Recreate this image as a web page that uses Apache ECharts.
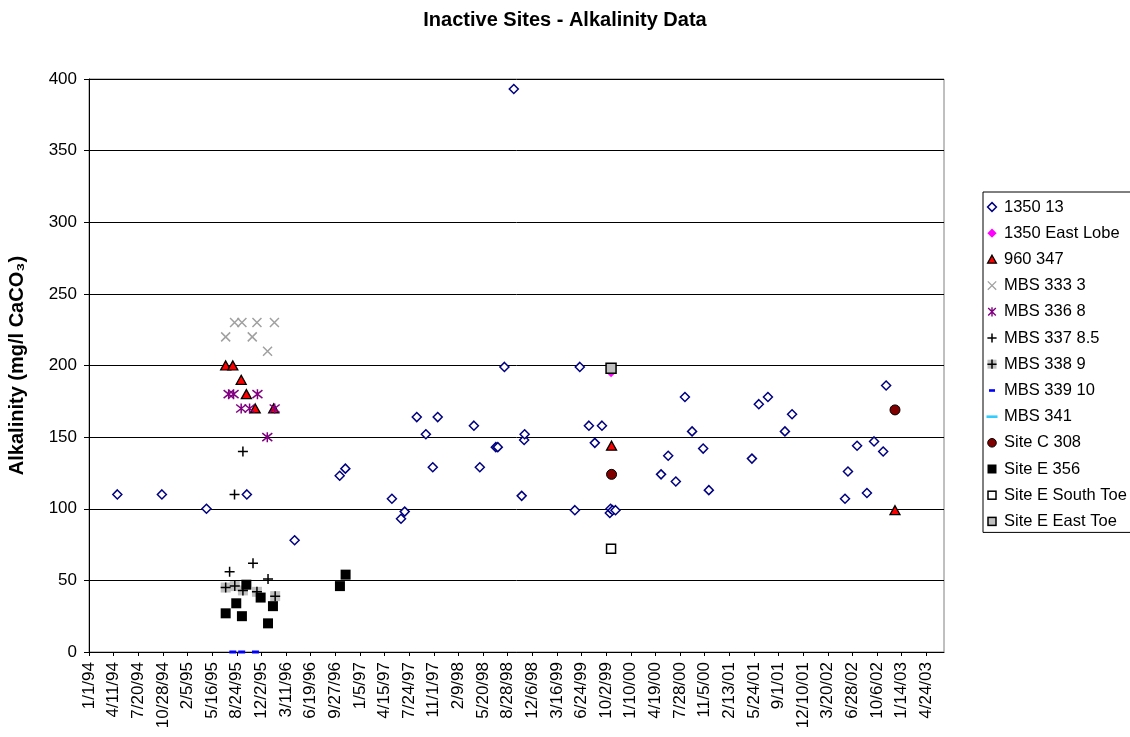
<!DOCTYPE html>
<html>
<head>
<meta charset="utf-8">
<script src="https://cdn.jsdelivr.net/npm/echarts@6/dist/echarts.min.js"></script>
<style>
  html, body { margin: 0; padding: 0; background: #fff; }
  #chart { width: 1130px; height: 737px; }
</style>
</head>
<body>
<div id="chart"></div>
<script>
// ---- axis settings -------------------------------------------------------
const AXIS_START = '1994-01-01';      // left edge of the date axis
const AXIS_END = '2003-07-05';        // right edge of the date axis
const TICK_STEP_DAYS = 100;           // spacing of the date ticks
const TICK_COUNT = 35;                // 1/1/94 ... 4/24/03
const Y_MIN = 0, Y_MAX = 400, Y_STEP = 50;

// ---- sampling data: dates and alkalinity (mg/l CaCO3) ---------------------
const site1350_13_dates = [
  '1994-04-26', '1994-10-24', '1995-04-23', '1995-10-04', '1996-04-15',
  '1996-10-15', '1996-11-07', '1997-05-15', '1997-06-21', '1997-07-06',
  '1997-08-24', '1997-09-30', '1997-10-28', '1997-11-17', '1998-04-13',
  '1998-05-07', '1998-07-11', '1998-07-19', '1998-08-15', '1998-09-22',
  '1998-10-24', '1998-11-03', '1998-11-05', '1999-05-28', '1999-06-17',
  '1999-07-24', '1999-08-17', '1999-09-15', '1999-10-17', '1999-10-20',
  '1999-10-28', '1999-11-09', '2000-05-12', '2000-06-10', '2000-07-11',
  '2000-08-17', '2000-09-15', '2000-10-30', '2000-11-22', '2001-05-16',
  '2001-06-13', '2001-07-20', '2001-09-27', '2001-10-26', '2002-05-29',
  '2002-06-10', '2002-07-17', '2002-08-26', '2002-09-24', '2002-10-31',
  '2002-11-12'
];
const site1350_13_values = [
  110, 110, 100, 110, 78,
  123, 128, 107, 93, 98,
  164, 152, 129, 164, 158,
  129, 143, 143, 199, 393,
  109, 148, 152, 99, 199,
  158, 146, 158, 97, 100,
  99, 99, 124, 137, 119,
  178, 154, 142, 113, 135,
  173, 178, 154, 166, 107,
  126, 144, 111, 147, 140,
  186
];

const eastLobe_dates = ['1999-10-22'];
const eastLobe_values = [195];

const site960_347_dates = ['1995-07-10', '1995-08-08', '1995-09-11', '1995-10-02', '1995-11-07', '1996-01-21', '1999-10-24', '2002-12-18'];
const site960_347_values = [200, 200, 190, 180, 170, 170, 144, 99];

const mbs333_dates = ['1995-07-10', '1995-08-15', '1995-09-14', '1995-10-26', '1995-11-14', '1995-12-27', '1996-01-24'];
const mbs333_values = [220, 230, 230, 220, 230, 210, 230];

const mbs336_dates = ['1995-07-22', '1995-08-11', '1995-09-11', '1995-10-15', '1995-11-16', '1995-12-26', '1996-01-25'];
const mbs336_values = [180, 180, 170, 170, 180, 150, 170];

const mbs337_dates = ['1995-07-26', '1995-08-15', '1995-09-18', '1995-10-29', '1995-12-29'];
const mbs337_values = [56, 110, 140, 62, 51];

const mbs338_dates = ['1995-07-10', '1995-08-16', '1995-09-18', '1995-11-14', '1996-01-27'];
const mbs338_values = [45, 46, 43, 42, 39];

const mbs339_dates = ['1995-08-08', '1995-09-13', '1995-11-08'];
const mbs339_values = [0, 0, 0];

const mbs341_dates = [];
const mbs341_values = [];

const siteC308_dates = ['1999-10-24', '2002-12-18'];
const siteC308_values = [124, 169];

const siteE356_dates = ['1995-07-10', '1995-08-22', '1995-09-14', '1995-10-02', '1995-11-29', '1995-12-29', '1996-01-18', '1996-10-16', '1996-11-08'];
const siteE356_values = [27, 34, 25, 47, 38, 20, 32, 46, 54];

const southToe_dates = ['1999-10-22'];
const southToe_values = [72];

const eastToe_dates = ['1999-10-22'];
const eastToe_values = [198];

// ---- helpers -------------------------------------------------------------
const FONT = '"Liberation Sans", Arial, Helvetica, sans-serif';
const DAY_MS = 86400000;
function utc(iso) {
  const [y, m, d] = iso.split('-').map(Number);
  return Date.UTC(y, m - 1, d);
}
const ORIGIN = utc(AXIS_START);
function dayNum(iso) { return Math.round((utc(iso) - ORIGIN) / DAY_MS); }
function dateLabel(days) {
  const dt = new Date(ORIGIN + days * DAY_MS);
  const yy = String(dt.getUTCFullYear() % 100).padStart(2, '0');
  return (dt.getUTCMonth() + 1) + '/' + dt.getUTCDate() + '/' + yy;
}
function pairs(dates, values) { return dates.map((d, i) => [dayNum(d), values[i]]); }

const tickDays = [];
for (let i = 0; i < TICK_COUNT; i++) tickDays.push(i * TICK_STEP_DAYS);

function svgIcon(body) {
  const svg = '<svg xmlns="http://www.w3.org/2000/svg" width="14" height="14" viewBox="0 0 14 14">' + body + '</svg>';
  return 'image://data:image/svg+xml;charset=utf-8,' + encodeURIComponent(svg);
}

const ICONS = {
  '1350 13': svgIcon('<path d="M7 2.6L11.4 7L7 11.4L2.6 7Z" fill="#fff" stroke="#000080" stroke-width="1.5"/>'),
  '1350 East Lobe': svgIcon('<path d="M7 2.4L11.6 7L7 11.6L2.4 7Z" fill="#ff00ff"/>'),
  '960 347': svgIcon('<path d="M7 2.8L11.4 10.8L2.6 10.8Z" fill="#ff0000" stroke="#000" stroke-width="1.3"/>'),
  'MBS 333 3': svgIcon('<path d="M2.8 2.8L11.2 11.2M11.2 2.8L2.8 11.2" stroke="#a0a0a0" stroke-width="1.3"/>'),
  'MBS 336 8': svgIcon('<path d="M3.2 3.2L10.8 10.8M10.8 3.2L3.2 10.8M7 2.4V11.6" stroke="#800080" stroke-width="1.4"/>'),
  'MBS 337 8.5': svgIcon('<path d="M7 2.4V11.6M2.4 7H11.6" stroke="#000" stroke-width="1.5"/>'),
  'MBS 338 9': svgIcon('<rect x="2.5" y="2.5" width="9" height="9" fill="#c0c0c0"/><path d="M7 2.4V11.6M2.4 7H11.6" stroke="#000" stroke-width="1.5"/>'),
  'MBS 339 10': svgIcon('<rect x="4" y="5.8" width="6" height="2.6" fill="#0000ff"/>'),
  'MBS 341': svgIcon('<rect x="1.5" y="5.8" width="11" height="2.6" fill="#33ccff"/>'),
  'Site C 308': svgIcon('<circle cx="7" cy="7" r="4.3" fill="#800000" stroke="#000" stroke-width="1"/>'),
  'Site E 356': svgIcon('<rect x="2.5" y="2.5" width="9" height="9" fill="#000"/>'),
  'Site E South Toe': svgIcon('<rect x="3" y="3" width="8" height="8" fill="#fff" stroke="#000" stroke-width="1.5"/>'),
  'Site E East Toe': svgIcon('<rect x="3" y="3" width="8" height="8" fill="#c0c0c0" stroke="#000" stroke-width="1.5"/>')
};

const CROSS_PATH = 'path://M0,0L10,10M10,0L0,10';
const STAR_PATH = 'path://M1,1L9,9M9,1L1,9M5,0L5,10';
const PLUS_PATH = 'path://M5,0L5,10M0,5L10,5';

function scatter(name, data, symbol, size, itemStyle) {
  return {
    type: 'scatter',
    name: name,
    data: data,
    symbol: symbol,
    symbolSize: size,
    itemStyle: Object.assign({ opacity: 1 }, itemStyle),
    emphasis: { disabled: true },
    silent: true
  };
}

const series = [
  scatter('1350 13', pairs(site1350_13_dates, site1350_13_values), 'diamond', 9,
    { color: '#ffffff', borderColor: '#000080', borderWidth: 1.5 }),
  scatter('1350 East Lobe', pairs(eastLobe_dates, eastLobe_values), 'diamond', 9,
    { color: '#ff00ff' }),
  scatter('960 347', pairs(site960_347_dates, site960_347_values), 'triangle', [10, 9],
    { color: '#ff0000', borderColor: '#000000', borderWidth: 1.3 }),
  scatter('MBS 333 3', pairs(mbs333_dates, mbs333_values), CROSS_PATH, 9,
    { color: 'rgba(0,0,0,0)', borderColor: '#a0a0a0', borderWidth: 1.5 }),
  scatter('MBS 336 8', pairs(mbs336_dates, mbs336_values), STAR_PATH, 10,
    { color: 'rgba(0,0,0,0)', borderColor: '#800080', borderWidth: 1.5 }),
  scatter('MBS 337 8.5', pairs(mbs337_dates, mbs337_values), PLUS_PATH, 10,
    { color: 'rgba(0,0,0,0)', borderColor: '#000000', borderWidth: 1.5 }),
  // gray square backing plus black cross for MBS 338 9
  scatter('MBS 338 9', pairs(mbs338_dates, mbs338_values), 'rect', 10,
    { color: '#c0c0c0' }),
  scatter('MBS 338 9', pairs(mbs338_dates, mbs338_values), PLUS_PATH, 10,
    { color: 'rgba(0,0,0,0)', borderColor: '#000000', borderWidth: 1.5 }),
  scatter('MBS 339 10', pairs(mbs339_dates, mbs339_values), 'rect', [7, 3],
    { color: '#0000ff' }),
  scatter('MBS 341', pairs(mbs341_dates, mbs341_values), 'rect', [10, 3],
    { color: '#33ccff' }),
  scatter('Site C 308', pairs(siteC308_dates, siteC308_values), 'circle', 10,
    { color: '#800000', borderColor: '#000000', borderWidth: 1 }),
  scatter('Site E 356', pairs(siteE356_dates, siteE356_values), 'rect', 10,
    { color: '#000000' }),
  scatter('Site E South Toe', pairs(southToe_dates, southToe_values), 'rect', 9,
    { color: '#ffffff', borderColor: '#000000', borderWidth: 1.5 }),
  scatter('Site E East Toe', pairs(eastToe_dates, eastToe_values), 'rect', 10,
    { color: '#c0c0c0', borderColor: '#000000', borderWidth: 1.5 })
];

const legendNames = Object.keys(ICONS);

const chart = echarts.init(document.getElementById('chart'), null, { renderer: 'canvas' });
chart.setOption({
  animation: false,
  backgroundColor: '#ffffff',
  textStyle: { fontFamily: FONT, color: '#000' },
  title: {
    text: 'Inactive Sites - Alkalinity Data',
    left: 'center',
    top: 5,
    textStyle: { fontFamily: FONT, fontSize: 20, fontWeight: 'bold', color: '#000' }
  },
  legend: {
    orient: 'vertical',
    left: 983,
    top: 192,
    padding: [6, 5, 2, 2],
    itemWidth: 14,
    itemHeight: 14,
    itemGap: 8.2,
    selectedMode: false,
    borderColor: '#000',
    borderWidth: 1,
    backgroundColor: '#fff',
    textStyle: { fontFamily: FONT, fontSize: 16.5, color: '#000', lineHeight: 18 },
    data: legendNames.map(n => ({ name: n, icon: ICONS[n] }))
  },
  grid: {
    left: 89, top: 79, right: 186, bottom: 85,
    show: true,
    borderColor: '#808080',
    borderWidth: 1,
    backgroundColor: '#ffffff',
    containLabel: false,
    outerBoundsMode: 'none'
  },
  xAxis: {
    type: 'value',
    min: 0,
    max: dayNum(AXIS_END),
    interval: TICK_STEP_DAYS,
    axisLine: { show: true, onZero: false, lineStyle: { color: '#000', width: 1 } },
    axisTick: { show: true, length: 4, customValues: tickDays, lineStyle: { color: '#000' } },
    splitLine: { show: false },
    axisLabel: {
      customValues: tickDays,
      rotate: 90,
      margin: 10,
      interval: 0,
      fontFamily: FONT,
      fontSize: 17,
      color: '#000',
      formatter: v => dateLabel(v)
    }
  },
  yAxis: {
    type: 'value',
    min: Y_MIN,
    max: Y_MAX,
    interval: Y_STEP,
    name: 'Alkalinity (mg/l CaCO\u2083)',
    nameLocation: 'middle',
    nameRotate: 90,
    nameGap: 62,
    nameTextStyle: { fontFamily: FONT, fontSize: 20, fontWeight: 'bold', color: '#000' },
    axisLine: { show: true, lineStyle: { color: '#000', width: 1 } },
    axisTick: { show: true, length: 5, lineStyle: { color: '#000' } },
    splitLine: { show: true, lineStyle: { color: '#000', width: 1 } },
    axisLabel: { margin: 12, fontFamily: FONT, fontSize: 17, color: '#000' }
  },
  series: series
});
</script>
</body>
</html>
